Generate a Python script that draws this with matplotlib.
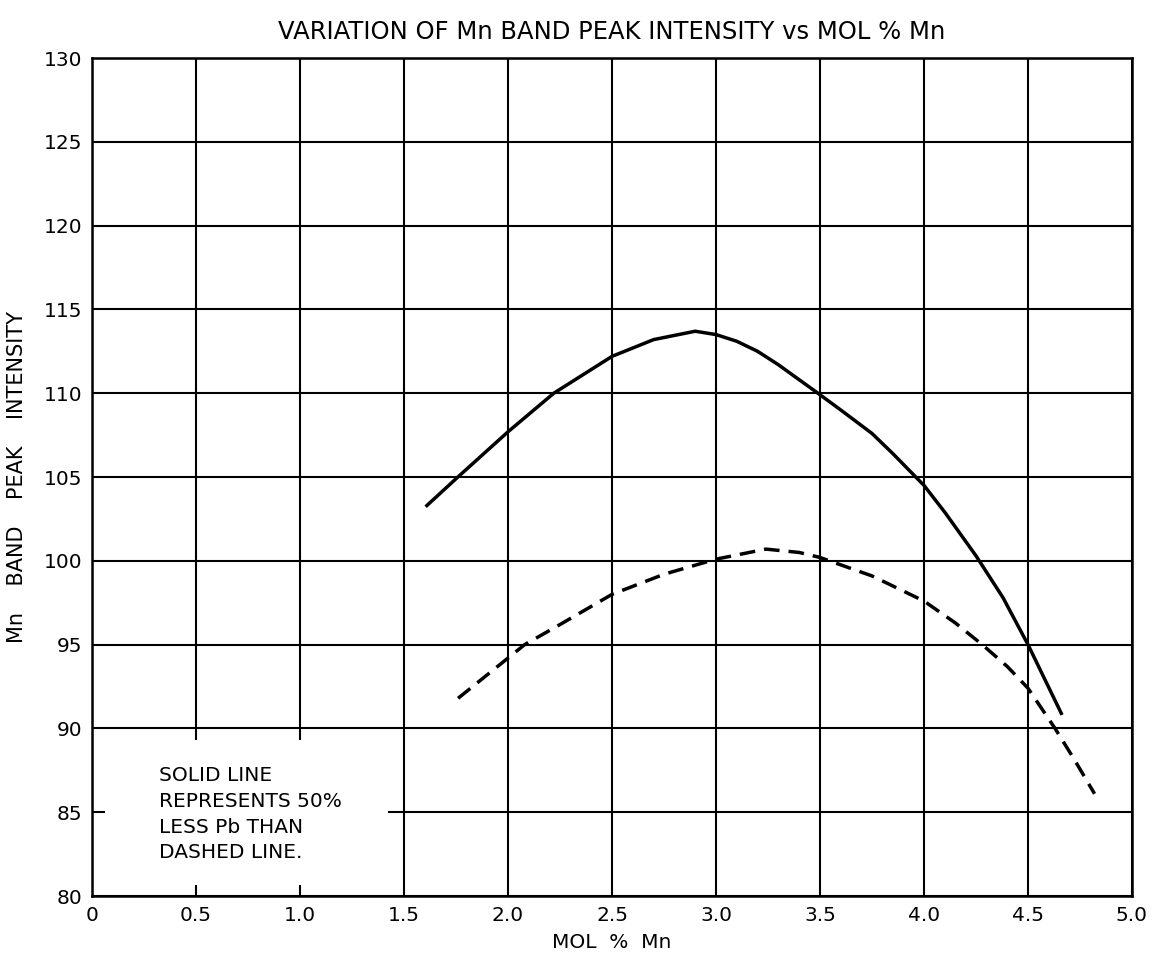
import matplotlib
matplotlib.use('Agg')
import matplotlib.pyplot as plt
from matplotlib.patches import Rectangle

# solid line (less Pb)
solid_x = [1.61, 1.75, 2.0, 2.22, 2.5, 2.7, 2.9, 3.0, 3.1, 3.2, 3.3, 3.49, 3.6, 3.75, 3.85,
           4.0, 4.1, 4.25, 4.38, 4.5, 4.66]
solid_y = [103.3, 104.9, 107.7, 110.0, 112.2, 113.2, 113.7, 113.5, 113.1, 112.5, 111.7, 110.0,
           109.0, 107.6, 106.4, 104.5, 102.9, 100.3, 97.8, 95.0, 90.9]

# dashed line
dash_x = [1.76, 2.0, 2.08, 2.25, 2.5, 2.75, 3.0, 3.24, 3.4, 3.5, 3.75, 4.0, 4.15, 4.28,
          4.4, 4.5, 4.63, 4.72, 4.82]
dash_y = [91.8, 94.2, 95.0, 96.2, 98.0, 99.2, 100.1, 100.7, 100.5, 100.2, 99.1, 97.6, 96.3,
          95.0, 93.7, 92.4, 90.0, 88.2, 86.1]

xticks = [0, 0.5, 1.0, 1.5, 2.0, 2.5, 3.0, 3.5, 4.0, 4.5, 5.0]
xtick_labels = ['0', '0.5', '1.0', '1.5', '2.0', '2.5', '3.0', '3.5', '4.0', '4.5', '5.0']
yticks = [80, 85, 90, 95, 100, 105, 110, 115, 120, 125, 130]

note = 'SOLID LINE\nREPRESENTS 50%\nLESS Pb THAN\nDASHED LINE.'

plt.rcParams['font.family'] = ['DejaVu Sans']

fig = plt.figure(figsize=(11.59, 9.61), dpi=100)
ax = fig.add_axes([0.0794, 0.0676, 0.8973, 0.872])

ax.set_xlim(0, 5.0)
ax.set_ylim(80, 130)
ax.set_xticks(xticks)
ax.set_xticklabels(xtick_labels)
ax.set_yticks(yticks)
ax.tick_params(length=0, labelsize=14.5, pad=7)
ax.grid(True, color='black', lw=1.5)
ax.set_axisbelow(True)
for s in ax.spines.values():
    s.set_linewidth(1.8)

# blank area behind the note (grid hidden there)
ax.add_patch(Rectangle((0.063, 80.65), 1.36, 8.65, facecolor='white',
                       edgecolor='none', zorder=1.5))
ax.text(0.32, 87.75, note, fontsize=14.5, va='top', ha='left',
        linespacing=1.45, zorder=3)

ax.plot(solid_x, solid_y, color='black', lw=2.5, zorder=4)
ax.plot(dash_x, dash_y, color='black', lw=2.5, dashes=(4.5, 2.6), zorder=4)

ax.set_xlabel('MOL  %  Mn', fontsize=14.5, labelpad=6)
ax.set_ylabel('Mn    BAND    PEAK    INTENSITY', fontsize=15, labelpad=12)
ax.set_title('VARIATION OF Mn BAND PEAK INTENSITY vs MOL % Mn', fontsize=17.5, pad=14)

fig.savefig('out.png', dpi=100)
